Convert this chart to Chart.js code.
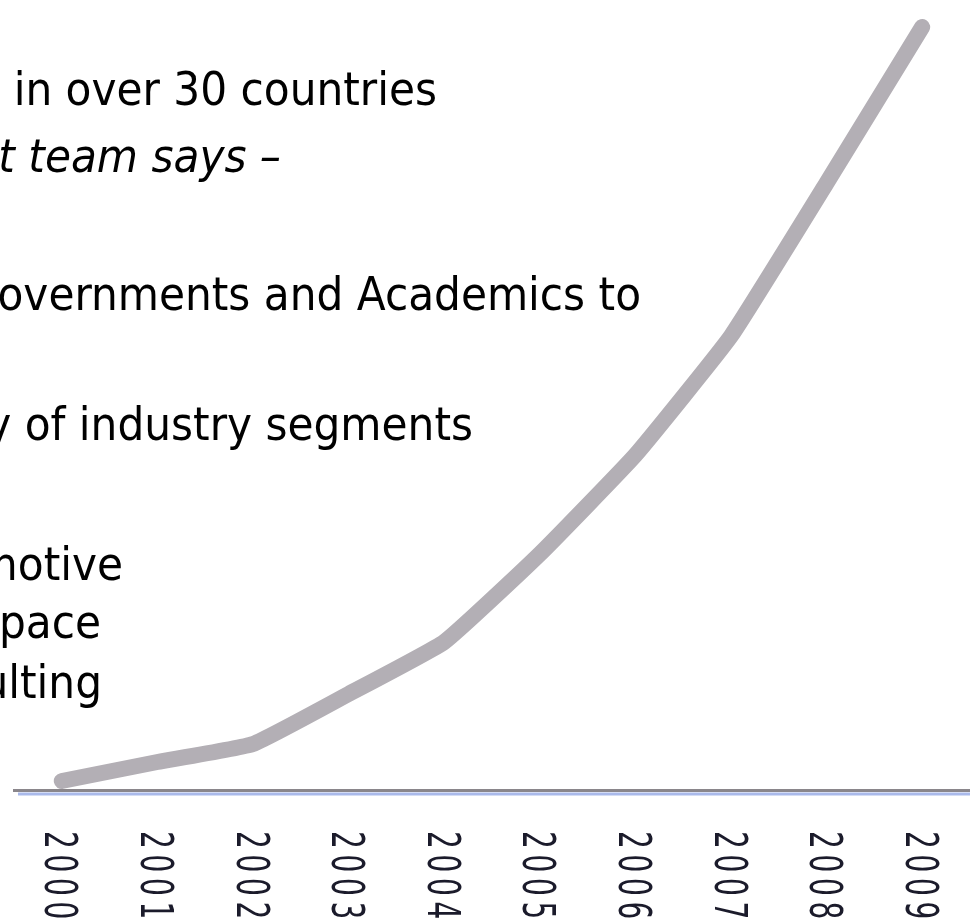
<!DOCTYPE html>
<html>
<head>
<meta charset="utf-8">
<script src="https://cdn.jsdelivr.net/npm/chart.js@4.4.0/dist/chart.umd.min.js"></script>
<style>
  html, body { margin: 0; padding: 0; background: #fff; overflow: hidden; }
  #wrap { position: relative; width: 970px; height: 923px; }
  #growth-chart { position: absolute; left: 0; top: 0; }
  #slide-text { position: absolute; left: 0; top: 0; pointer-events: none; }
  #slide-text text { font-family: 'DejaVu Sans Condensed', 'DejaVu Sans', sans-serif; font-stretch: condensed; font-size: 47px; fill: #000; }
</style>
</head>
<body>
<div id="wrap">
  <canvas id="growth-chart" width="970" height="923"></canvas>
  <svg id="slide-text" width="970" height="923">
    <text x="437" y="105" text-anchor="end">in over 30 countries</text>
    <text x="281" y="172" text-anchor="end" font-style="italic">t team says –</text>
    <text x="641" y="310" text-anchor="end">overnments and Academics to</text>
    <text x="473" y="440" text-anchor="end">y of industry segments</text>
    <text x="123" y="580" text-anchor="end">motive</text>
    <text x="101" y="638" text-anchor="end">space</text>
    <text x="102" y="698" text-anchor="end">ulting</text>
  </svg>
</div>
<script>
var years = ['2000', '2001', '2002', '2003', '2004', '2005', '2006', '2007', '2008', '2009'];
var growth = [9, 28, 46, 96, 148, 236, 335, 454, 607, 763];

// year labels run top to bottom, chart.js only turns them the other way
var yearLabels = {
    id: 'yearLabels',
    afterDraw: (chart) => {
        var ctx = chart.ctx;
        var xScale = chart.scales.x;
        var base = chart.chartArea.bottom;

        // light blue rule under the grey axis line
        ctx.save();
        ctx.strokeStyle = '#a9b9ea';
        ctx.lineWidth = 3;
        ctx.beginPath();
        ctx.moveTo(xScale.left + 4, base + 4);
        ctx.lineTo(chart.width, base + 4);
        ctx.stroke();

        ctx.fillStyle = '#1b1b2b';
        ctx.font = '28px "DejaVu Sans"';
        ctx.letterSpacing = '5.7px';
        ctx.textAlign = 'left';
        ctx.textBaseline = 'alphabetic';
        years.forEach((year, i) => {
            ctx.save();
            ctx.translate(xScale.getPixelForTick(i) - 16.5, base + 41);
            ctx.rotate(Math.PI / 2);
            ctx.scale(1, 1.6);
            ctx.fillText(year, 0, 0);
            ctx.restore();
        });
        ctx.restore();
    }
};

var ctx = document.getElementById('growth-chart').getContext('2d');
var chart = new Chart(ctx, {
    type: 'line',
    data: {
        labels: years,
        datasets: [{
            data: growth,
            borderColor: 'rgb(179, 175, 181)',
            borderWidth: 16,
            borderCapStyle: 'round',
            borderJoinStyle: 'round',
            pointRadius: 0,
            tension: 0.12,
            fill: false
        }]
    },
    options: {
        responsive: false,
        animation: false,
        events: [],
        layout: { padding: { left: 14, right: 0, top: 0, bottom: 133 } },
        plugins: { legend: { display: false }, tooltip: { enabled: false } },
        scales: {
            x: {
                offset: true,
                grid: { display: false, drawTicks: false },
                border: { display: true, color: '#8a868b', width: 3 },
                ticks: { display: false }
            },
            y: { display: false, min: 0, max: 790 }
        }
    },
    plugins: [yearLabels]
});
</script>
</body>
</html>
